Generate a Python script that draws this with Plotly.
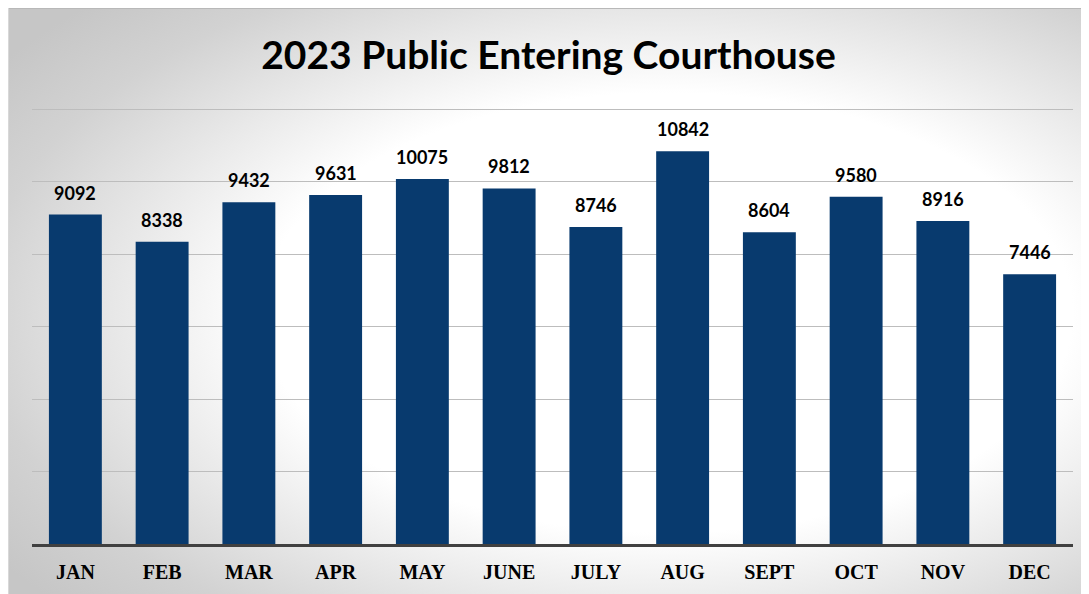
import base64
import plotly.graph_objects as go

months = ["JAN", "FEB", "MAR", "APR", "MAY", "JUNE", "JULY", "AUG", "SEPT", "OCT", "NOV", "DEC"]
visitors = [9092, 8338, 9432, 9631, 10075, 9812, 8746, 10842, 8604, 9580, 8916, 7446]
title_text = "2023 Public Entering Courthouse"

W, H = 1081, 586
L, R, T, B = 24, 16, 99, 50
pw, ph = W - L - R, H - T - B

svg = (
    f'<svg xmlns="http://www.w3.org/2000/svg" width="{W}" height="{H}" viewBox="0 0 {W} {H}" preserveAspectRatio="none">'
    '<defs><radialGradient id="g" cx="0.61" cy="0.52" r="0.75" gradientUnits="objectBoundingBox">'
    '<stop offset="0" stop-color="#ffffff"/><stop offset="0.5" stop-color="#ffffff"/>'
    '<stop offset="0.85" stop-color="#d2d2d2"/><stop offset="1" stop-color="#c6c6c6"/></radialGradient></defs>'
    f'<rect x="0" y="0" width="{W}" height="{H}" fill="url(#g)"/>'
    f'<line x1="0" y1="0.5" x2="{W}" y2="0.5" stroke="#b8b8b8" stroke-width="1"/>'
    f'<line x1="0.5" y1="0" x2="0.5" y2="{H}" stroke="#d8d8d8" stroke-width="1"/>'
    '</svg>'
)
bg_src = "data:image/svg+xml;base64," + base64.b64encode(svg.encode()).decode()

fig = go.Figure(
    go.Bar(
        x=months,
        y=visitors,
        marker=dict(color="#083A6E", line=dict(width=0)),
        width=0.61,
        hoverinfo="x+y",
    )
)

for m, v in zip(months, visitors):
    fig.add_annotation(
        x=m,
        y=v,
        xref="x",
        yref="y",
        text="<b>" + str(v) + "</b>",
        showarrow=False,
        yanchor="bottom",
        yshift=9,
        font=dict(family="Lato", size=18, color="#000000"),
    )

fig.update_layout(
    width=W,
    height=H,
    margin=dict(l=L, r=R, t=T, b=B),
    paper_bgcolor="#ffffff",
    plot_bgcolor="rgba(0,0,0,0)",
    showlegend=False,
    title=dict(
        text="<b>" + title_text + "</b>",
        x=0.5,
        xanchor="center",
        y=1 - 47 / H,
        yanchor="middle",
        font=dict(family="Lato", size=39, color="#000000"),
    ),
    images=[
        dict(
            source=bg_src,
            xref="paper",
            yref="paper",
            x=-L / pw,
            y=1 + T / ph,
            sizex=W / pw,
            sizey=H / ph,
            sizing="stretch",
            xanchor="left",
            yanchor="top",
            layer="below",
        )
    ],
    xaxis=dict(
        showgrid=False,
        showline=True,
        linecolor="#404040",
        linewidth=3,
        ticks="",
        tickfont=dict(family="Liberation Serif", size=20, color="#000000", weight="bold"),
        ticklabelstandoff=8,
    ),
    yaxis=dict(
        range=[0, 12060],
        tick0=0,
        dtick=2000,
        showgrid=True,
        gridcolor="#bdbdbd",
        gridwidth=1,
        showticklabels=False,
        zeroline=False,
        showline=False,
    ),
)

fig.write_html("out.html")
